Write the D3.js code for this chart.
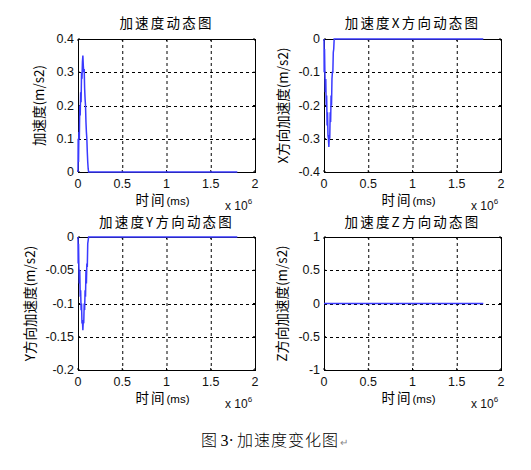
<!DOCTYPE html>
<html><head><meta charset="utf-8">
<script src="https://cdn.jsdelivr.net/npm/d3@7"></script>
<style>
html,body{margin:0;padding:0;background:#fff;}
svg{display:block;}
</style></head>
<body>
<script>
// ---- data (time in units of 10^6 ms) ----
const xTicks = [0, 0.5, 1, 1.5, 2];
const timeSpike = [0, 0.002, 0.006, 0.01, 0.015, 0.02, 0.025, 0.03, 0.035, 0.04, 0.045, 0.05, 0.055, 0.06, 0.065, 0.07, 0.075, 0.08, 0.085, 0.09, 0.095, 0.1, 0.105, 0.11, 0.115, 0.12, 1.8];
const accTotal = [0, 0.1, 0.03, 0.12, 0.1, 0.2, 0.17, 0.24, 0.21, 0.3, 0.28, 0.33, 0.35, 0.32, 0.3, 0.31, 0.25, 0.22, 0.2, 0.15, 0.12, 0.1, 0.06, 0.03, 0.01, 0, 0];
const accX = [0, -0.1, -0.03, -0.1, -0.16, -0.12, -0.2, -0.17, -0.26, -0.22, -0.29, -0.3, -0.325, -0.29, -0.3, -0.22, -0.25, -0.17, -0.2, -0.12, -0.1, -0.1, -0.04, -0.03, 0, 0, 0];
const accY = [0, -0.04, -0.01, -0.045, -0.07, -0.05, -0.09, -0.08, -0.11, -0.1, -0.13, -0.125, -0.14, -0.125, -0.13, -0.1, -0.11, -0.08, -0.09, -0.05, -0.07, -0.04, -0.045, -0.01, -0.005, 0, 0];
const timeZ = [0, 1.8];
const accZ = [0, 0];
const yTicksTotal = [0, 0.1, 0.2, 0.3, 0.4];
const yTicksX = [-0.4, -0.3, -0.2, -0.1, 0];
const yTicksY = [-0.2, -0.15, -0.1, -0.05, 0];
const yTicksZ = [-1, -0.5, 0, 0.5, 1];
const titles = ["加速度动态图", "加速度X方向动态图", "加速度Y方向动态图", "加速度Z方向动态图"];
const yLabels = ["加速度(m/s2)", "X方向加速度(m/s2)", "Y方向加速度(m/s2)", "Z方向加速度(m/s2)"];
const xLabelMain = "时间";
const xLabelUnit = "(ms)";
const captionPrefix = "图 ";
const captionNumber = "3·";
const captionText = "加速度变化图";

const W = 531, H = 470;
const svg = d3.select("body").append("svg").attr("width", W).attr("height", H)
  .style("background", "#fff");

const panels = [
  {l:78, r:255, t:39, b:172, t0:timeSpike, v:accTotal, dom:[0,0.4], ticks:yTicksTotal, title:titles[0], titleY:27.5, ylab:yLabels[0], ylx:39, labY:205, expY:209.5},
  {l:324, r:501, t:39, b:172, t0:timeSpike, v:accX, dom:[-0.4,0], ticks:yTicksX, title:titles[1], titleY:27.5, ylab:yLabels[1], ylx:283, labY:205, expY:209.5},
  {l:78, r:255, t:237, b:370, t0:timeSpike, v:accY, dom:[-0.2,0], ticks:yTicksY, title:titles[2], titleY:226.5, ylab:yLabels[2], ylx:30, labY:403, expY:408},
  {l:324, r:501, t:237, b:370, t0:timeZ, v:accZ, dom:[-1,1], ticks:yTicksZ, title:titles[3], titleY:226.5, ylab:yLabels[3], ylx:282, labY:403, expY:408}
];

const numFont = "'Liberation Sans', Arial, sans-serif";
const cjkFont = "'Noto Sans CJK SC', sans-serif";

panels.forEach(p => {
  const x = d3.scaleLinear().domain([0, 2]).range([p.l, p.r]);
  const y = d3.scaleLinear().domain(p.dom).range([p.b, p.t]);
  const g = svg.append("g");

  // grid
  g.append("g").selectAll("line").data(xTicks.slice(1, -1)).join("line")
    .attr("x1", d => x(d) + 0.5).attr("x2", d => x(d) + 0.5).attr("y1", p.t).attr("y2", p.b)
    .attr("stroke", "#000").attr("stroke-width", 1).attr("stroke-dasharray", "3,3");
  g.append("g").selectAll("line").data(p.ticks.slice(1, -1)).join("line")
    .attr("y1", d => Math.round(y(d)) + 0.5).attr("y2", d => Math.round(y(d)) + 0.5).attr("x1", p.l).attr("x2", p.r)
    .attr("stroke", "#000").attr("stroke-width", 1).attr("stroke-dasharray", "3,3");

  // ticks inward
  const tl = 2;
  xTicks.forEach(d => {
    g.append("line").attr("x1", x(d)).attr("x2", x(d)).attr("y1", p.b).attr("y2", p.b - tl).attr("stroke", "#000");
    g.append("line").attr("x1", x(d)).attr("x2", x(d)).attr("y1", p.t).attr("y2", p.t + tl).attr("stroke", "#000");
  });
  p.ticks.forEach(d => {
    g.append("line").attr("y1", y(d)).attr("y2", y(d)).attr("x1", p.l).attr("x2", p.l + tl).attr("stroke", "#000");
    g.append("line").attr("y1", y(d)).attr("y2", y(d)).attr("x1", p.r).attr("x2", p.r - tl).attr("stroke", "#000");
  });

  // frame
  g.append("rect").attr("x", p.l + 0.5).attr("y", p.t + 0.5)
    .attr("width", p.r - p.l).attr("height", p.b - p.t)
    .attr("fill", "none").attr("stroke", "#000").attr("stroke-width", 1);

  // data line
  const pts = p.t0.map((t, i) => [t, p.v[i]]);
  g.append("path").datum(pts)
    .attr("d", d3.line().x(d => x(d[0])).y(d => y(d[1])))
    .attr("fill", "none").attr("stroke", "#3a3aff").attr("stroke-width", 1.5);

  // tick labels
  g.append("g").selectAll("text").data(xTicks).join("text")
    .attr("x", d => x(d)).attr("y", p.b + 15.5).attr("text-anchor", "middle")
    .attr("font-family", numFont).attr("font-size", 12.5).attr("fill", "#111")
    .text(d => String(d));
  g.append("g").selectAll("text").data(p.ticks).join("text")
    .attr("x", p.l - 4).attr("y", d => y(d) + 4).attr("text-anchor", "end")
    .attr("font-family", numFont).attr("font-size", 12.5).attr("fill", "#111")
    .text(d => String(d));

  // title
  g.append("text").attr("x", (p.l + p.r) / 2).attr("y", p.titleY)
    .attr("text-anchor", "middle").attr("font-family", cjkFont).attr("font-size", 13.5)
    .attr("letter-spacing", 2.2).attr("fill", "#000").text(p.title);

  // x label
  const xl = g.append("text").attr("x", (p.l + p.r) / 2 - 4).attr("y", p.labY)
    .attr("text-anchor", "middle").attr("fill", "#000");
  xl.append("tspan").attr("font-family", cjkFont).attr("font-size", 13.5).attr("letter-spacing", 2).text(xLabelMain);
  xl.append("tspan").attr("font-family", numFont).attr("font-size", 11.5).text(xLabelUnit);

  // exponent
  const ex = g.append("text").attr("x", p.r - 30).attr("y", p.expY)
    .attr("font-family", numFont).attr("font-size", 12).attr("fill", "#111");
  ex.append("tspan").text("x 10");
  ex.append("tspan").attr("font-size", 8).attr("dy", -6).text("6");

  // y label
  g.append("text").attr("transform", `translate(${p.ylx},${(p.t + p.b) / 2}) rotate(-90)`)
    .attr("text-anchor", "middle").attr("dy", "0.35em")
    .attr("font-family", cjkFont).attr("font-size", 13.5).attr("fill", "#000")
    .text(p.ylab);
});

// caption
const cap = svg.append("text").attr("x", 201).attr("y", 446)
  .attr("font-family", cjkFont).attr("font-size", 16).attr("font-weight", 300).attr("fill", "#000");
cap.append("tspan").text(captionPrefix);
cap.append("tspan").attr("font-family", "'Liberation Serif', serif").attr("font-weight", 400).text(captionNumber);
cap.append("tspan").attr("dx", 3).attr("letter-spacing", 1).text(captionText);
cap.append("tspan").attr("font-size", 10).attr("fill", "#888").attr("dx", 1).text("↵");
</script>
</body></html>
